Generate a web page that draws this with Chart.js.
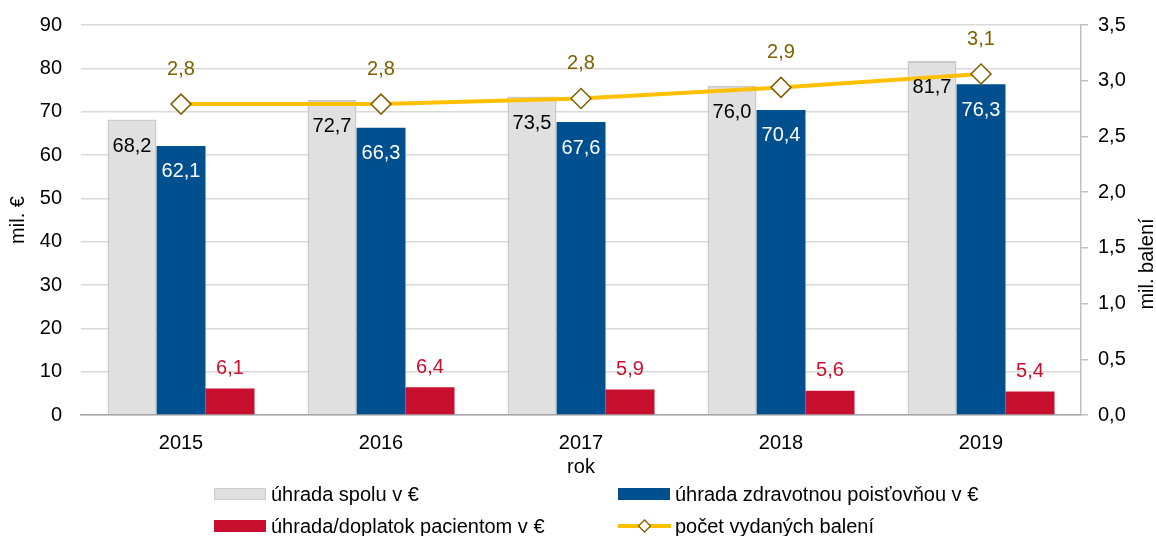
<!DOCTYPE html>
<html>
<head>
<meta charset="utf-8">
<script src="https://cdn.jsdelivr.net/npm/chart.js@4"></script>
<style>
  html, body { margin: 0; padding: 0; background: #fff; }
  #wrap { width: 1156px; height: 536px; }
</style>
</head>
<body>
<div id="wrap"><canvas id="myChart" width="1156" height="536"></canvas></div>
<script>
    var years = ['2015', '2016', '2017', '2018', '2019'];
    var spolu = [68.2, 72.7, 73.5, 76.0, 81.7];
    var poistovna = [62.1, 66.3, 67.6, 70.4, 76.3];
    var pacient = [6.1, 6.4, 5.9, 5.6, 5.4];
    var balenia = [2.79, 2.79, 2.84, 2.94, 3.06];
    var baleniaLabels = ['2,8', '2,8', '2,8', '2,9', '3,1'];

    var FONT = "'Liberation Sans', Arial, sans-serif";

    function fmt(v, d) {
        return v.toFixed(d).replace('.', ',');
    }

    // labels on bars and points
    var valueLabels = {
        id: 'valueLabels',
        afterDatasetsDraw: function (chart) {
            var ctx = chart.ctx;
            ctx.save();
            ctx.font = '20px ' + FONT;
            ctx.textAlign = 'center';
            ctx.textBaseline = 'middle';
            chart.data.datasets.forEach(function (ds, i) {
                var meta = chart.getDatasetMeta(i);
                meta.data.forEach(function (el, j) {
                    var txt, y;
                    if (i === 0) { ctx.fillStyle = '#000'; txt = fmt(ds.data[j], 1); y = el.y + 27; }
                    else if (i === 1) { ctx.fillStyle = '#fff'; txt = fmt(ds.data[j], 1); y = el.y + 26; }
                    else if (i === 2) { ctx.fillStyle = '#C8102E'; txt = fmt(ds.data[j], 1); y = el.y - 20; }
                    else { ctx.fillStyle = '#806000'; txt = baleniaLabels[j]; y = el.y - 35; }
                    ctx.fillText(txt, el.x, y);
                });
            });
            ctx.restore();
        }
    };

    // two-column legend at the bottom + right axis title (reads upward)
    var gridLegend = {
        id: 'gridLegend',
        afterDraw: function (chart) {
            var ctx = chart.ctx;
            var cols = [214, 618];
            var rows = [494, 526];
            var order = [0, 1, 2, 3];
            ctx.save();
            ctx.font = '20px ' + FONT;
            ctx.textBaseline = 'middle';
            ctx.textAlign = 'left';
            order.forEach(function (di, k) {
                var ds = chart.data.datasets[di];
                var x = cols[k % 2], y = rows[Math.floor(k / 2)];
                if (ds.type === 'line') {
                    ctx.strokeStyle = ds.borderColor;
                    ctx.lineWidth = 4;
                    ctx.beginPath();
                    ctx.moveTo(x, y);
                    ctx.lineTo(x + 53, y);
                    ctx.stroke();
                    var cx = x + 26.5, r = 6;
                    ctx.beginPath();
                    ctx.moveTo(cx - r, y); ctx.lineTo(cx, y - r); ctx.lineTo(cx + r, y); ctx.lineTo(cx, y + r);
                    ctx.closePath();
                    ctx.fillStyle = '#fff';
                    ctx.fill();
                    ctx.strokeStyle = ds.pointBorderColor;
                    ctx.lineWidth = 1.3;
                    ctx.stroke();
                } else {
                    ctx.fillStyle = ds.backgroundColor;
                    ctx.fillRect(x, y - 6, 52, 12);
                    if (ds.borderWidth) {
                        ctx.strokeStyle = ds.borderColor;
                        ctx.lineWidth = 1;
                        ctx.strokeRect(x + 0.5, y - 5.5, 51, 11);
                    }
                }
                ctx.fillStyle = '#000';
                ctx.fillText(ds.label, x + 57, y + 1);
            });

            ctx.translate(1147, 264);
            ctx.rotate(-Math.PI / 2);
            ctx.textAlign = 'center';
            ctx.fillText('mil. balení', 0, 0);
            ctx.restore();
        }
    };

    window.onload = function () {
        var ctx = document.getElementById('myChart').getContext('2d');
        Chart.defaults.font.family = FONT;
        Chart.defaults.font.size = 20;
        Chart.defaults.color = '#000';

        new Chart(ctx, {
            type: 'bar',
            data: {
                labels: years,
                datasets: [{
                    label: 'úhrada spolu v €',
                    data: spolu,
                    backgroundColor: '#E0E0E0',
                    borderColor: '#CACACA',
                    borderWidth: 2,
                    order: 1
                }, {
                    label: 'úhrada zdravotnou poisťovňou v €',
                    data: poistovna,
                    backgroundColor: '#00508F',
                    borderWidth: 0,
                    order: 1
                }, {
                    label: 'úhrada/doplatok pacientom v €',
                    data: pacient,
                    backgroundColor: '#C8102E',
                    borderWidth: 0,
                    order: 1
                }, {
                    type: 'line',
                    label: 'počet vydaných balení',
                    data: balenia,
                    yAxisID: 'y1',
                    borderColor: '#FFC000',
                    borderWidth: 4,
                    pointStyle: 'rectRot',
                    pointRadius: 10,
                    pointBackgroundColor: '#fff',
                    pointBorderColor: '#806000',
                    pointBorderWidth: 1.5,
                    tension: 0,
                    order: 0
                }]
            },
            options: {
                responsive: false,
                animation: false,
                layout: { padding: { top: 25, right: 0, bottom: 57, left: 0 } },
                categoryPercentage: 0.735,
                barPercentage: 1,
                plugins: {
                    legend: { display: false },
                    tooltip: { enabled: false }
                },
                scales: {
                    x: {
                        grid: { display: false, drawTicks: false },
                        border: { display: true, color: '#A6A6A6', width: 1.5 },
                        ticks: { padding: 16, color: '#000' },
                        title: { display: true, text: 'rok', color: '#000', padding: 0 },
                        afterFit: function (s) { s.height = 64; }
                    },
                    y: {
                        position: 'left',
                        min: 0,
                        max: 90,
                        ticks: { stepSize: 10, padding: 19, color: '#000' },
                        grid: { color: '#D9D9D9', lineWidth: 1.5, drawTicks: false },
                        border: { display: false },
                        title: { display: true, text: 'mil. €', color: '#000', padding: { top: 6, bottom: 0 } },
                        afterFit: function (s) { s.width = 81; s.paddingTop = 0; s.paddingBottom = 0; }
                    },
                    y1: {
                        position: 'right',
                        min: 0,
                        max: 3.5,
                        ticks: {
                            stepSize: 0.5,
                            padding: 10,
                            color: '#000',
                            callback: function (v) { return fmt(v, 1); }
                        },
                        grid: { drawOnChartArea: false, color: '#BFBFBF', tickLength: 7, lineWidth: 1.5 },
                        border: { display: true, color: '#BFBFBF', width: 1.5 },
                        title: { display: false },
                        afterFit: function (s) { s.width = 75; s.paddingTop = 0; s.paddingBottom = 0; }
                    }
                }
            },
            plugins: [valueLabels, gridLegend]
        });
    };
</script>
</body>
</html>
